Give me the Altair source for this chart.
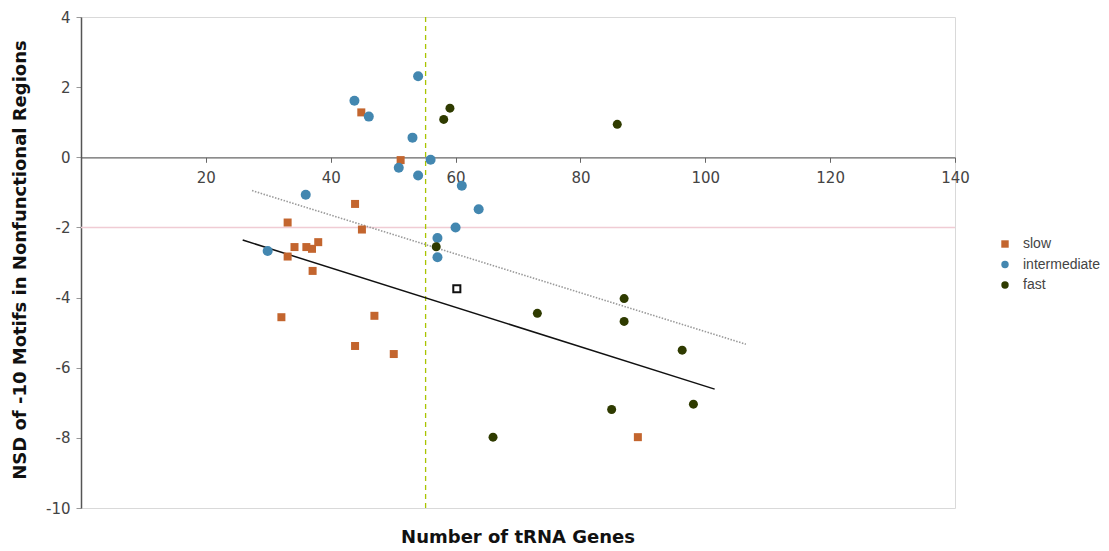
import altair as alt
import pandas as pd

# ---- data ----
slow_x = [44.9, 51.2, 43.9, 45.0, 33.1, 34.2, 36.1, 37.0, 38.0, 33.1, 37.1, 32.1, 47.0, 43.9, 50.1, 89.2]
slow_y = [1.28, -0.08, -1.33, -2.06, -1.86, -2.56, -2.56, -2.61, -2.42, -2.83, -3.24, -4.56, -4.52, -5.38, -5.61, -7.98]

inter_x = [43.8, 46.1, 54.0, 53.1, 50.9, 54.0, 56.0, 61.0, 63.7, 60.0, 57.1, 57.1, 36.0, 29.9]
inter_y = [1.61, 1.16, 2.31, 0.56, -0.30, -0.52, -0.07, -0.81, -1.48, -2.00, -2.30, -2.85, -1.07, -2.67]

fast_x = [59.1, 58.1, 56.9, 85.9, 87.0, 73.1, 87.0, 96.3, 85.0, 98.1, 66.0]
fast_y = [1.40, 1.08, -2.55, 0.94, -4.03, -4.45, -4.68, -5.50, -7.19, -7.04, -7.98]

hollow_x = [60.2]
hollow_y = [-3.75]

solid_trend_x = [25.9, 101.5]
solid_trend_y = [-2.36, -6.61]

dotted_trend_x = [27.4, 106.5]
dotted_trend_y = [-0.95, -5.33]

cutoff_x = [55.2]
threshold_y = [-2]

groups = ["slow", "intermediate", "fast"]
colors = ["#c3652e", "#4387b0", "#2f3b00"]
shapes = ["square", "circle", "circle"]
marker_sizes = {"slow": 64, "intermediate": 100, "fast": 81}

x_ticks = [20, 40, 60, 80, 100, 120, 140]
y_ticks = [-10, -8, -6, -4, -2, 0, 2, 4]

# ---- tables ----
grp = ["slow"] * len(slow_x) + ["intermediate"] * len(inter_x) + ["fast"] * len(fast_x)
points = pd.DataFrame({
    "x": slow_x + inter_x + fast_x,
    "y": slow_y + inter_y + fast_y,
    "group": grp,
    "sz": [marker_sizes[g] for g in grp],
})
hollow = pd.DataFrame({"x": hollow_x, "y": hollow_y})
solid = pd.DataFrame({"x": solid_trend_x, "y": solid_trend_y})
dotted = pd.DataFrame({"x": dotted_trend_x, "y": dotted_trend_y})
vline = pd.DataFrame({"x": cutoff_x})
hline = pd.DataFrame({"y": threshold_y})

W, H = 874, 491

xscale = alt.Scale(domain=[0, 140], nice=False, zero=False)
yscale = alt.Scale(domain=[-10, 4], nice=False, zero=False)

xaxis = alt.Axis(
    values=x_ticks, orient="bottom", offset=-(10 / 14) * H,
    domainColor="#666", domainWidth=1.2, tickColor="#666", tickSize=5,
    labelFont="DejaVu Sans", labelFontSize=15, labelColor="#444",
    labelPadding=8, labelFlush=False, grid=False, title=None,
    labelExpr="'' + datum.value",
)
yaxis = alt.Axis(
    values=y_ticks, domainColor="#555", domainWidth=1.5, tickColor="#999",
    tickSize=5, labelFont="DejaVu Sans", labelFontSize=15, labelColor="#444",
    labelPadding=6, grid=False, labelExpr="'' + datum.value",
    title="NSD of -10 Motifs in Nonfunctional Regions",
    titleFont="DejaVu Sans", titleFontSize=18, titleFontWeight="bold",
    titleColor="#111", titleX=-61, titleY=H / 2 - 3, titleBaseline="middle",
)

X = alt.X("x:Q", scale=xscale, axis=xaxis)
Y = alt.Y("y:Q", scale=yscale, axis=yaxis)

pink = alt.Chart(hline).mark_rule(color="#f0ccd4", strokeWidth=1.5).encode(y=Y)
vert = alt.Chart(vline).mark_rule(color="#a9c400", strokeWidth=1.3, strokeDash=[5, 4]).encode(x=X)
dot_line = alt.Chart(dotted).mark_line(color="#9a9a9a", strokeWidth=1.6, strokeDash=[1.5, 1.5]).encode(x=X, y=Y)
sol_line = alt.Chart(solid).mark_line(color="#111111", strokeWidth=1.5).encode(x=X, y=Y)

pts = alt.Chart(points).mark_point(filled=True, opacity=1).encode(
    x=X, y=Y,
    color=alt.Color("group:N", scale=alt.Scale(domain=groups, range=colors),
                    legend=alt.Legend(title=None)),
    shape=alt.Shape("group:N", scale=alt.Scale(domain=groups, range=shapes),
                    legend=alt.Legend(title=None)),
    size=alt.Size("sz:Q", scale=None, legend=None),
)

hol = alt.Chart(hollow).mark_point(shape="square", filled=False, color="#111111",
                                   strokeWidth=2, size=50, opacity=1).encode(x=X, y=Y)

chart = alt.layer(pink, vert, dot_line, sol_line, pts, hol).properties(
    width=W, height=H,
    autosize=alt.AutoSizeParams(type="none"),
    padding={"left": 73, "top": 9, "right": 145, "bottom": 42},
    title=alt.TitleParams(
        "Number of tRNA Genes", orient="bottom", anchor="middle",
        font="DejaVu Sans", fontSize=18, fontWeight="bold", color="#111", offset=13,
    ),
).configure_view(
    stroke="#d9d9d9", strokeWidth=1
).configure_legend(
    orient="none", legendX=917, legendY=220, padding=0,
    labelFont="Liberation Sans", labelFontSize=14, labelColor="#444",
    symbolSize=55, rowPadding=6.5, labelOffset=11,
)

chart.save("out.html", embed_options={"renderer": "svg", "actions": False})
